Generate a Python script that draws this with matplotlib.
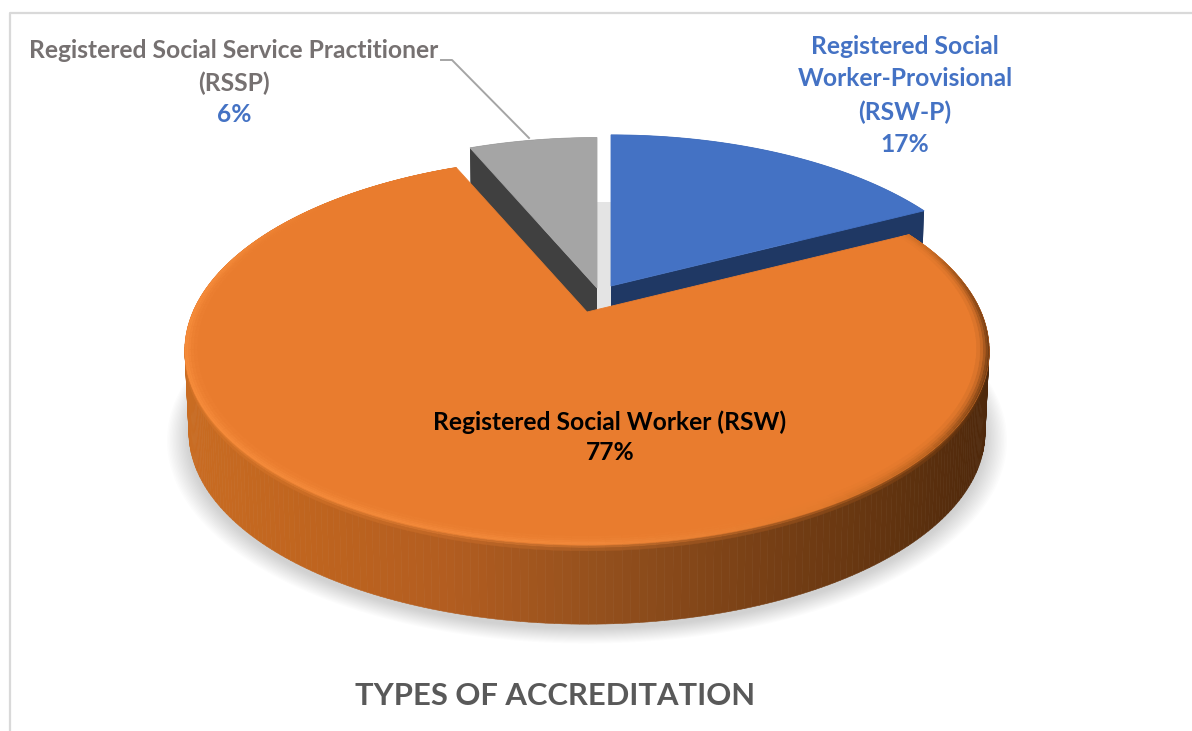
import numpy as np
import matplotlib
matplotlib.use("Agg")
import matplotlib.pyplot as plt
from matplotlib.colors import to_rgb

plt.rcParams['font.family'] = ['Lato', 'DejaVu Sans']

categories = ['Registered Social\nWorker-Provisional\n(RSW-P)', 'Registered Social Worker (RSW)',
              'Registered Social Service Practitioner\n(RSSP)']
shares = [17, 77, 6]

top_colors = ['#4472C4', '#E97C2E', '#A5A5A5']
wall_colors = ['#1F3864', '#8F4F1E', '#404040']

# view of the pie, in pixels
cx, cy = 587, 312
rx, ry, k = 394, 186, 0.2
depth = 82
tilt = 1.08
apex_shift = [(24, -26), (0, 0), (10, -24)]
radius_scale = [0.97, 1.0, 0.965]


def project(t, r=1.0, dx=0, dy=0, z=0.0):
    # t is clockwise from north, radians
    phi = np.arctan2(tilt * np.sin(t), np.cos(t))
    u = r * np.sin(phi)
    v = r * np.cos(phi)
    s = 1 - 0.01 * z
    den = 1 + k * v
    return cx + dx + s * rx * u / den, cy + dy + depth * z + s * ry * -v / den


def mix(a, b, w):
    a, b = np.array(to_rgb(a)), np.array(to_rgb(b))
    return tuple(a * (1 - w) + b * w)


def wall_color(x):
    xs = [183, 300, 450, 600, 750, 880, 990]
    cols = [to_rgb(c) for c in ['#C96C22', '#C0651F', '#B25D20', '#94501D', '#7A4116', '#643510', '#4E280B']]
    return tuple(np.interp(x, xs, [c[i] for c in cols]) for i in range(3))


def rim_color(x):
    xs = [183, 600, 820, 930, 990]
    cols = [to_rgb(c) for c in ['#F78D3C', '#F28A3C', '#E27A2C', '#B8621F', '#6E3A12']]
    return tuple(np.interp(x, xs, [c[i] for c in cols]) for i in range(3))


edges = np.concatenate([[0], np.cumsum(shares)]) / np.sum(shares) * 2 * np.pi

fig = plt.figure(figsize=(11.92, 7.31), dpi=100)
ax = fig.add_axes([0, 0, 1, 1])
ax.set_xlim(0, 1192)
ax.set_ylim(731, 0)
ax.axis('off')

# frame of the chart
ax.plot([10, 10, 1192], [731, 13, 13], color='#D9D9D9', lw=1.6, zorder=0)

# soft shadow under the pie
circle = np.linspace(0, 2 * np.pi, 300)
for i in range(16):
    sx, sy = project(circle, r=1.0 + 0.0035 * i, z=1.0)
    ax.fill(sx, sy + 4, color='#808080', alpha=0.022, lw=0, zorder=1)

# light inner face seen through the gap
ax.fill([cx + apex_shift[2][0], cx + apex_shift[0][0], cx + apex_shift[0][0], cx + apex_shift[2][0]],
        [cy - 110, cy - 110, cy, cy], color='#E4E4E4', lw=0, zorder=1.5)

# blue and grey slices first, orange goes over them
for i in [0, 2]:
    dx, dy = apex_shift[i]
    r = radius_scale[i]
    t = np.linspace(edges[i], edges[i + 1], 60)
    x0, y0 = project(t, r, dx, dy)
    x1, y1 = project(t, r, dx, dy, z=1.0)
    # outer wall
    ax.fill(np.r_[x0, x1[::-1]], np.r_[y0, y1[::-1]], color=wall_colors[i], lw=0, zorder=2)
    # the two cut faces
    for e in [edges[i], edges[i + 1]]:
        ex0, ey0 = project(e, r, dx, dy)
        ex1, ey1 = project(e, r, dx, dy, z=1.0)
        ax.fill([cx + dx, ex0, ex1, cx + dx], [cy + dy, ey0, ey1, cy + dy + depth],
                color=wall_colors[i], lw=0, zorder=2)
    ax.fill(np.r_[cx + dx, x0], np.r_[cy + dy, y0], color=top_colors[i], ec=top_colors[i], lw=0.6, zorder=3)

# orange wall, split in strips for the shading
t = np.linspace(edges[1], edges[2], 300)
for a, b in zip(t[:-1], t[1:]):
    xa, ya = project(a)
    xb, yb = project(b)
    xc, yc = project(b, z=1.0)
    xd, yd = project(a, z=1.0)
    c = wall_color((xa + xb) / 2)
    ax.fill([xa, xb, xc, xd], [ya, yb, yc, yd], color=c, ec=c, lw=0.4, zorder=4)

# the wall catches some light just under the rim
for z_top, z_low, w in [(0.0, 0.02, 0.75), (0.02, 0.045, 0.45), (0.045, 0.08, 0.2)]:
    for a, b in zip(t[:-1:2], t[2::2]):
        xa, ya = project(a, z=z_top)
        xb, yb = project(b, z=z_top)
        xc, yc = project(b, z=z_low)
        xd, yd = project(a, z=z_low)
        mid = (xa + xb) / 2
        c = mix(wall_color(mid), rim_color(mid), w)
        ax.fill([xa, xb, xc, xd], [ya, yb, yc, yd], color=c, ec=c, lw=0.3, zorder=4.5)

# orange top
x0, y0 = project(t)
ax.fill(np.r_[cx, x0], np.r_[cy, y0], color=top_colors[1], ec=top_colors[1], lw=0.6, zorder=5)

# rounded edge of the orange top
bands = [(1.0, 0.996, 0.95), (0.996, 0.991, 0.8), (0.991, 0.985, 0.55), (0.985, 0.978, 0.3), (0.978, 0.97, 0.12)]
for r_out, r_in, w in bands:
    for a, b in zip(t[:-1:2], t[2::2]):
        xa, ya = project(a, r_out)
        xb, yb = project(b, r_out)
        xc, yc = project(b, r_in)
        xd, yd = project(a, r_in)
        v = np.cos((a + b) / 2)
        fade = np.clip((0.75 - v) / 0.5, 0, 1)
        c = mix(top_colors[1], rim_color((xa + xb) / 2), w * fade)
        ax.fill([xa, xb, xc, xd], [ya, yb, yc, yd], color=c, ec=c, lw=0.3, zorder=6)

# labels
label_font = dict(fontsize=17.7, fontweight='bold', ha='center', va='center', zorder=8)
ax.text(905, 47, 'Registered Social', color='#4472C4', **label_font)
ax.text(905, 79, 'Worker-Provisional', color='#4472C4', **label_font)
ax.text(905, 112, '(RSW-P)', color='#4472C4', **label_font)
ax.text(905, 144, f'{shares[0]}%', color='#4472C4', **label_font)

ax.text(234, 50, 'Registered Social Service Practitioner', color='#767171', **label_font)
ax.text(234, 83, '(RSSP)', color='#767171', **label_font)
ax.text(234, 115, f'{shares[2]}%', color='#4472C4', **label_font)

ax.text(610, 422, 'Registered Social Worker (RSW)', color='black', **label_font)
ax.text(610, 453, f'{shares[1]}%', color='black', **label_font)

# leader line of the grey slice
ax.plot([441, 452, 529], [60, 60, 138], color='#A5A5A5', lw=1.4, zorder=7)

ax.text(555, 696, 'TYPES OF ACCREDITATION', color='#595959', fontsize=22.3, fontweight='bold',
        ha='center', va='center')

fig.savefig('out.png', dpi=100)
